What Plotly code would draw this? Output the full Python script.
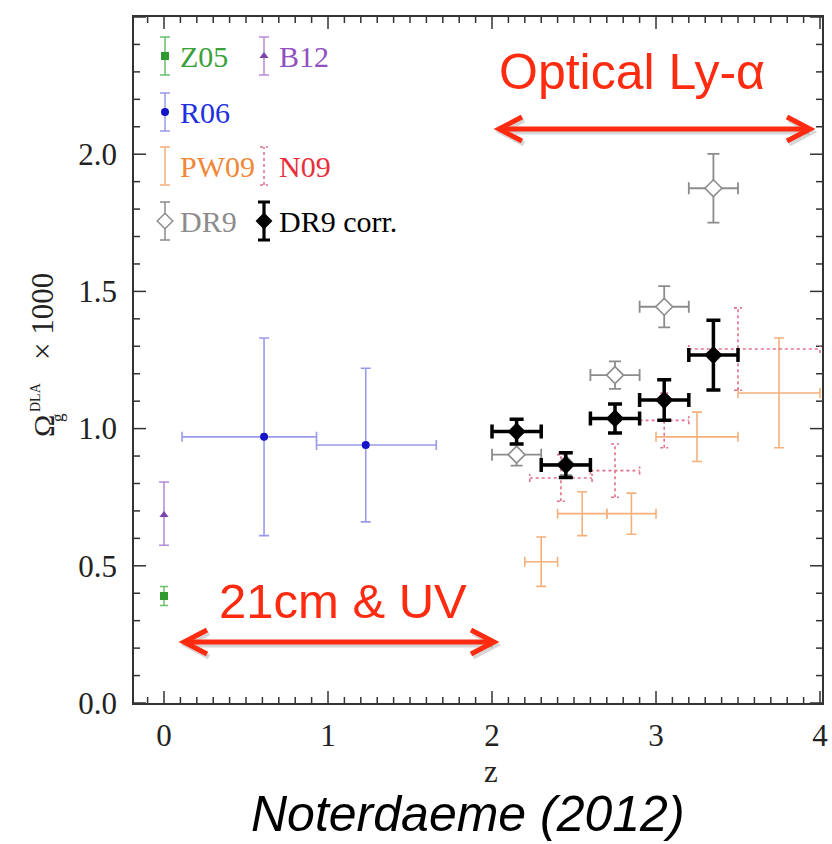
import plotly.graph_objects as go

# ---------------- data: Omega_g(DLA) x 1000 versus redshift ----------------
# Zwaan et al. 2005 (21cm)
z05_z = [0.0]
z05_om = [0.39]
z05_err = [0.035]

# Braun 2012
b12_z = [0.0]
b12_om = [0.685]
b12_err_hi = [0.12]
b12_err_lo = [0.11]

# Rao et al. 2006 (UV)
r06_z = [0.61, 1.23]
r06_om = [0.97, 0.94]
r06_zlo = [0.50, 0.30]
r06_zhi = [0.32, 0.43]
r06_err = [0.36, 0.28]

# Prochaska & Wolfe 2009
pw09_z = [2.30, 2.55, 2.85, 3.25, 3.75]
pw09_om = [0.515, 0.69, 0.69, 0.97, 1.13]
pw09_zerr = [0.10, 0.15, 0.15, 0.25, 0.25]
pw09_err = [0.09, 0.08, 0.075, 0.09, 0.20]

# Noterdaeme et al. 2009
n09_z = [2.42, 2.75, 3.05, 3.50]
n09_om = [0.82, 0.847, 1.03, 1.29]
n09_zlo = [0.19, 0.15, 0.15, 0.30]
n09_zhi = [0.19, 0.15, 0.15, 0.50]
n09_err = [0.085, 0.097, 0.10, 0.15]

# SDSS DR9, raw and corrected
dr9_z = [2.15, 2.45, 2.75, 3.05, 3.35]
dr9_zerr = [0.15, 0.15, 0.15, 0.15, 0.15]
dr9_om = [0.905, 0.87, 1.195, 1.444, 1.876]
dr9_err = [0.04, 0.04, 0.05, 0.075, 0.125]
dr9c_om = [0.989, 0.867, 1.037, 1.104, 1.268]
dr9c_err = [0.045, 0.045, 0.053, 0.074, 0.127]

x_major = [0, 1, 2, 3, 4]
y_major = [0.0, 0.5, 1.0, 1.5, 2.0, 2.5]
minor_step = 0.1

# ---------------- styling ----------------
SERIF = "Liberation Serif, Times New Roman, serif"
SANS = "Liberation Sans, Arial, sans-serif"
C_Z05, C_Z05_E, C_Z05_T = "#2f9a2f", "#6cc06c", "#3aa03a"
C_B12, C_B12_E, C_B12_T = "#7a44aa", "#b58ad8", "#9050c0"
C_R06, C_R06_E, C_R06_T = "#1414c8", "#9a9aea", "#2030e0"
C_PW, C_PW_T = "#f5b07c", "#f0883a"
C_N09, C_N09_T = "#e2708a", "#e8303c"
C_DR9 = "#8c8c8c"
C_DR9C = "#000000"
RED = "#fe2b10"
AX = "#333333"

W, H = 832, 844
L, R, T, B = 134, 10, 17, 141
PW_, PH_ = W - L - R, H - T - B
XR = [-0.183, -0.183 + PW_ / 164.0]
YR = [0.0, 2.5]
px_x = PW_ / (XR[1] - XR[0])
px_y = PH_ / (YR[1] - YR[0])


def paper(px, py):
    """Page pixel -> paper coordinates."""
    return (px - L) / PW_, (H - B - py) / PH_


def to_data(px, py):
    """Page pixel -> data coordinates (for the inset key)."""
    return XR[0] + (px - L) / px_x, YR[0] + (H - B - py) / px_y


def dotted_crosses(xs, ys, xlo, xhi, ey, cap_px=4):
    """Segments for error crosses drawn as one dotted line trace."""
    cx, cy = cap_px / px_x, cap_px / px_y
    X, Y = [], []
    for x, y, a, b, e in zip(xs, ys, xlo, xhi, ey):
        X += [x - a, x + b, None, x, x, None]
        Y += [y, y, None, y - e, y + e, None]
        for xe in (x - a, x + b):
            X += [xe, xe, None]
            Y += [y - cy, y + cy, None]
        for ye in (y - e, y + e):
            X += [x - cx, x + cx, None]
            Y += [ye, ye, None]
    return X, Y


fig = go.Figure()

# ---------------- inward ticks on all four sides ----------------
MAJ_LEN, MIN_LEN = 12, 6


def tick_segments():
    X, Y = [], []
    for n in range(int(XR[0] / minor_step) - 1, int(XR[1] / minor_step) + 2):
        v = round(n * minor_step, 6)
        if v < XR[0] or v > XR[1]:
            continue
        ln = (MAJ_LEN if any(abs(v - m) < 1e-6 for m in x_major) else MIN_LEN) / px_y
        X += [v, v, None, v, v, None]
        Y += [YR[0], YR[0] + ln, None, YR[1], YR[1] - ln, None]
    for n in range(int(round(YR[0] / minor_step)), int(round(YR[1] / minor_step)) + 1):
        v = round(n * minor_step, 6)
        ln = (MAJ_LEN if any(abs(v - m) < 1e-6 for m in y_major) else MIN_LEN) / px_x
        X += [XR[0], XR[0] + ln, None, XR[1], XR[1] - ln, None]
        Y += [v, v, None, v, v, None]
    return X, Y


tkx, tky = tick_segments()
fig.add_trace(go.Scatter(x=tkx, y=tky, mode="lines", line=dict(color=AX, width=1.5),
                         showlegend=False, hoverinfo="skip", cliponaxis=False))

# PW09: plain error crosses
fig.add_trace(go.Scatter(
    x=pw09_z, y=pw09_om, mode="markers",
    marker=dict(size=1, color=C_PW, opacity=0),
    error_x=dict(type="data", array=pw09_zerr, color=C_PW, thickness=1.6, width=5),
    error_y=dict(type="data", array=pw09_err, color=C_PW, thickness=1.6, width=5),
    showlegend=False))

# N09: dotted error crosses
nx, ny = dotted_crosses(n09_z, n09_om, n09_zlo, n09_zhi, n09_err)
fig.add_trace(go.Scatter(x=nx, y=ny, mode="lines",
                         line=dict(color=C_N09, width=1.6, dash="dot"),
                         showlegend=False))

# Z05
fig.add_trace(go.Scatter(
    x=z05_z, y=z05_om, mode="markers",
    marker=dict(symbol="square", size=8, color=C_Z05),
    error_y=dict(type="data", array=z05_err, color=C_Z05_E, thickness=1.5, width=4),
    showlegend=False))

# B12
fig.add_trace(go.Scatter(
    x=b12_z, y=b12_om, mode="markers",
    marker=dict(symbol="triangle-up", size=8, color=C_B12),
    error_y=dict(type="data", symmetric=False, array=b12_err_hi, arrayminus=b12_err_lo,
                 color=C_B12_E, thickness=1.5, width=5),
    showlegend=False))

# R06
fig.add_trace(go.Scatter(
    x=r06_z, y=r06_om, mode="markers",
    marker=dict(symbol="circle", size=8, color=C_R06),
    error_x=dict(type="data", symmetric=False, array=r06_zhi, arrayminus=r06_zlo,
                 color=C_R06_E, thickness=1.6, width=5),
    error_y=dict(type="data", array=r06_err, color=C_R06_E, thickness=1.6, width=5),
    showlegend=False))

# DR9 (open diamonds)
fig.add_trace(go.Scatter(
    x=dr9_z, y=dr9_om, mode="markers",
    marker=dict(symbol="diamond", size=13, color="white", line=dict(color=C_DR9, width=1.6)),
    error_x=dict(type="data", array=dr9_zerr, color=C_DR9, thickness=1.8, width=6),
    error_y=dict(type="data", array=dr9_err, color=C_DR9, thickness=1.8, width=6),
    showlegend=False))

# DR9 corrected (filled black diamonds)
fig.add_trace(go.Scatter(
    x=dr9_z, y=dr9c_om, mode="markers",
    marker=dict(symbol="diamond", size=14, color=C_DR9C),
    error_x=dict(type="data", array=dr9_zerr, color=C_DR9C, thickness=3.5, width=7),
    error_y=dict(type="data", array=dr9c_err, color=C_DR9C, thickness=3.5, width=7),
    showlegend=False))

# ---------------- inset key ----------------
KEY_COL = [165, 264]
KEY_ROW = [56, 112, 166, 221]
KEY_HALF = 19
KEY_FONT = 30

key_items = [
    # label, column, row, marker, colour, error colour, text colour
    ("Z05", 0, 0, "square", C_Z05, C_Z05_E, C_Z05_T),
    ("B12", 1, 0, "triangle-up", C_B12, C_B12_E, C_B12_T),
    ("R06", 0, 1, "circle", C_R06, C_R06_E, C_R06_T),
    ("PW09", 0, 2, None, C_PW, C_PW, C_PW_T),
    ("DR9", 0, 3, "diamond-open", C_DR9, C_DR9, C_DR9),
    ("DR9 corr.", 1, 3, "diamond", C_DR9C, C_DR9C, C_DR9C),
]
for label, col, row, sym, col_m, col_e, col_t in key_items:
    kx, ky = to_data(KEY_COL[col], KEY_ROW[row])
    heavy = label == "DR9 corr."
    if sym == "diamond-open":
        mk = dict(symbol="diamond", size=12, color="white", line=dict(color=col_m, width=1.5))
    elif sym is None:
        mk = dict(size=1, opacity=0)
    else:
        mk = dict(symbol=sym, size=13 if heavy else 8, color=col_m)
    fig.add_trace(go.Scatter(
        x=[kx], y=[ky], mode="markers", marker=mk,
        error_y=dict(type="data", array=[KEY_HALF / px_y], color=col_e,
                     thickness=3.2 if heavy else 1.5, width=6 if heavy else 5),
        showlegend=False, hoverinfo="skip"))
    tx, ty = paper(KEY_COL[col] + 13, KEY_ROW[row])
    fig.add_annotation(x=tx, y=ty, xref="paper", yref="paper", text=label,
                       showarrow=False, xanchor="left", yanchor="middle",
                       font=dict(family=SERIF, size=KEY_FONT, color=col_t))

# N09 key: dotted bar with caps
kx, ky = to_data(KEY_COL[1], KEY_ROW[2])
hx, hy = 4 / px_x, KEY_HALF / px_y
fig.add_trace(go.Scatter(
    x=[kx, kx, None, kx - hx, kx + hx, None, kx - hx, kx + hx],
    y=[ky - hy, ky + hy, None, ky - hy, ky - hy, None, ky + hy, ky + hy],
    mode="lines", line=dict(color=C_N09, width=1.5, dash="dot"),
    showlegend=False, hoverinfo="skip"))
tx, ty = paper(KEY_COL[1] + 13, KEY_ROW[2])
fig.add_annotation(x=tx, y=ty, xref="paper", yref="paper", text="N09",
                   showarrow=False, xanchor="left", yanchor="middle",
                   font=dict(family=SERIF, size=KEY_FONT, color=C_N09_T))

# ---------------- double-headed arrows with labels ----------------
shapes = []


def seg_path(points):
    pts = [paper(px, py) for px, py in points]
    return "M " + " L ".join(f"{x:.5f},{y:.5f}" for x, y in pts)


def arrow(x0, x1, y, dx=23, dy=12):
    for (ox, oy), col in (((2, 3), "rgba(0,0,0,0.16)"), ((0, 0), RED)):
        for pts in ([(x0 + 3, y), (x1 - 3, y)],
                    [(x0 + dx, y - dy), (x0, y), (x0 + dx, y + dy)],
                    [(x1 - dx, y - dy), (x1, y), (x1 - dx, y + dy)]):
            shapes.append(dict(type="path", xref="paper", yref="paper",
                               path=seg_path([(px + ox, py + oy) for px, py in pts]),
                               line=dict(color=col, width=5)))


arrow(499, 810, 129)
arrow(184, 494, 642)


def page_text(px, py, text, family, size, color, angle=0):
    ax_, ay_ = paper(px, py)
    fig.add_annotation(x=ax_, y=ay_, xref="paper", yref="paper", text=text,
                       showarrow=False, textangle=angle, xanchor="center", yanchor="middle",
                       font=dict(family=family, size=size, color=color))


page_text(632, 72, "Optical Ly-α", SANS, 50, RED)
page_text(343, 601, "21cm &amp; UV", SANS, 49, RED)
page_text(468, 814, "<i>Noterdaeme (2012)</i>", SANS, 50, "#000000")

# axis titles
page_text(491, 771, "z", SERIF, 31, "#222222")
for txt, tx, ty, fs in [("Ω", 43, 426, 30), ("DLA", 35, 397, 14),
                        ("g", 57, 418, 17), ("× 1000", 43, 316, 31)]:
    page_text(tx, ty, txt, SERIF, fs, "#222222", angle=-90)

axis_common = dict(showline=True, linecolor=AX, linewidth=1.5, mirror=True,
                   ticks="", showgrid=False, zeroline=False, automargin=False,
                   tickfont=dict(family=SERIF, size=31, color="#222222"))

fig.update_layout(
    width=W, height=H,
    margin=dict(l=L, r=R, t=T, b=B),
    plot_bgcolor="white", paper_bgcolor="white",
    showlegend=False,
    shapes=shapes,
    xaxis=dict(range=XR, tickmode="array", tickvals=x_major,
               ticktext=[str(v) for v in x_major], ticklabelstandoff=4, **axis_common),
    yaxis=dict(range=YR, tickmode="array", tickvals=y_major,
               ticktext=[f"{v:.1f}" for v in y_major], ticklabelstandoff=9, **axis_common),
)

fig.write_html("out.html")
